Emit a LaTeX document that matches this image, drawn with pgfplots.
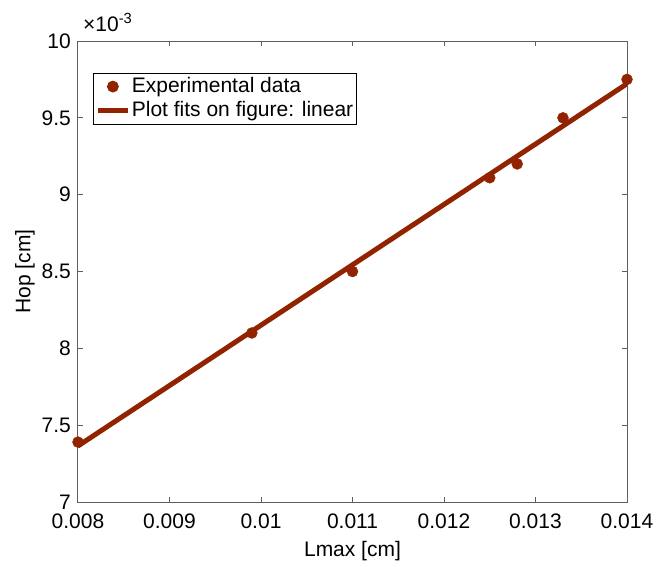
\documentclass[border=0pt]{standalone}
\usepackage{fontspec}
\setmainfont{Liberation Sans}
\usepackage{pgfplots}
\pgfplotsset{compat=1.18}
\definecolor{dred}{RGB}{145,35,0}
\definecolor{axgray}{RGB}{95,95,95}
\begin{document}
\fontsize{21}{25}\selectfont
\begin{tikzpicture}
\begin{axis}[
  scale only axis, width=549pt, height=461pt,
  xmin=0.008, xmax=0.014, ymin=0.007, ymax=0.010,
  xtick={0.008,0.009,0.010,0.011,0.012,0.013,0.014},
  xticklabels={0.008,0.009,0.01,0.011,0.012,0.013,0.014},
  ytick={0.007,0.0075,0.008,0.0085,0.009,0.0095,0.010},
  yticklabels={7,7.5,8,8.5,9,9.5,10},
  scaled x ticks=false, scaled y ticks=false,
  tick pos=both, tick align=inside,
  major tick length=5pt,
  axis line style={axgray, line width=1pt},
  every tick/.style={axgray, line width=1pt},
  tick label style={font=\fontsize{21}{25}\selectfont, black},
  xticklabel style={yshift=-5pt},
  label style={font=\fontsize{21}{25}\selectfont},
  xlabel={Lmax [cm]}, ylabel={Hop [cm]},
  xlabel style={at={(rel axis cs:0.5,0)}, anchor=center, yshift=-49pt},
  ylabel style={at={(rel axis cs:0,0.5)}, anchor=center, rotate=0, yshift=53pt},
  title={×10\textsuperscript{-3}},
  title style={at={(rel axis cs:0,1)}, anchor=base west, xshift=5pt, yshift=4pt, inner sep=0pt, font=\fontsize{21}{25}\selectfont},
  legend style={at={(rel axis cs:0.0273,0.9306)}, anchor=north west,
    draw=black, line width=0.8pt, fill=white,
    inner xsep=2pt, inner ysep=2.5pt,
    font=\fontsize{21}{25}\selectfont,
    nodes={inner sep=1.5pt}, row sep=3pt},
  legend cell align=left,
]
\addplot[only marks, mark=*, mark size=5.5pt, color=dred,
  legend image code/.code={\fill[dred] (15pt,0pt) circle (5.5pt);\path[draw=none,fill=none] (0pt,0pt) -- (30pt,0pt);}]
  coordinates {
  (0.0080,0.00739) (0.0099,0.00810) (0.0110,0.00850) (0.0125,0.00911)
  (0.0128,0.00920) (0.0133,0.00950) (0.0140,0.00975)
  };
\addlegendentry{Experimental data}
\addplot[no marks, color=dred, line width=5pt,
  legend image code/.code={\draw[dred, line width=5pt] (0pt,0pt) -- (30pt,0pt);}]
  coordinates {(0.0080,0.007365) (0.0140,0.009722)};
\addlegendentry{Plot fits on figure: linear}
\coordinate (bl) at (rel axis cs:0,0);
\coordinate (tr) at (rel axis cs:1,1);
\end{axis}
\pgfresetboundingbox
\path ([shift={(-78pt,-64pt)}]bl) rectangle ([shift={(32pt,41pt)}]tr);
\end{tikzpicture}
\end{document}
